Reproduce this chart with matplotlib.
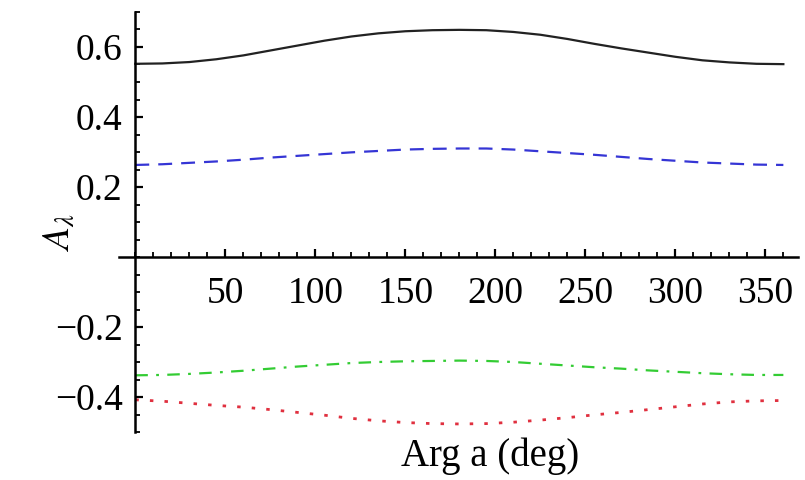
import matplotlib.pyplot as plt
import numpy as np
from matplotlib.ticker import MultipleLocator, FixedLocator

plt.rcParams["font.family"] = ["Liberation Serif", "DejaVu Serif"]
plt.rcParams["mathtext.fontset"] = "stix"
plt.rcParams["lines.scale_dashes"] = False

# Arg a in degrees
arg_a = [0, 15, 30, 45, 60, 75, 90, 105, 120, 135, 150, 165, 180,
         195, 210, 225, 240, 255, 270, 285, 300, 315, 330, 345, 360]

a_black = [0.552, 0.553, 0.557, 0.565, 0.576, 0.590, 0.604, 0.618, 0.630, 0.639, 0.645, 0.648, 0.649,
           0.648, 0.643, 0.635, 0.623, 0.609, 0.596, 0.584, 0.572, 0.562, 0.556, 0.552, 0.551]
a_blue = [0.263, 0.265, 0.269, 0.273, 0.278, 0.284, 0.289, 0.294, 0.299, 0.303, 0.307, 0.309, 0.310,
          0.310, 0.307, 0.302, 0.297, 0.292, 0.286, 0.280, 0.275, 0.270, 0.267, 0.264, 0.263]
a_green = [-0.338, -0.337, -0.334, -0.330, -0.325, -0.319, -0.313, -0.308, -0.303, -0.300, -0.298, -0.297, -0.296,
           -0.297, -0.300, -0.305, -0.310, -0.315, -0.319, -0.324, -0.328, -0.332, -0.335, -0.337, -0.337]
a_red = [-0.408, -0.412, -0.418, -0.424, -0.429, -0.436, -0.444, -0.452, -0.461, -0.468, -0.473, -0.476, -0.477,
         -0.476, -0.472, -0.466, -0.459, -0.451, -0.444, -0.436, -0.428, -0.420, -0.414, -0.411, -0.410]

x_ticks = [50, 100, 150, 200, 250, 300, 350]
y_ticks = [-0.4, -0.2, 0.2, 0.4, 0.6]

fig = plt.figure(figsize=(8.05, 4.8), dpi=100)
ax = fig.add_axes([0.148, 0.1, 0.843, 0.875])

lw = 1.6
ax.plot(arg_a, a_black, color="#222222", lw=lw)
ax.plot(arg_a, a_blue, color="#3535d5", lw=lw, dashes=(10, 6.5))
ax.plot(arg_a, a_green, color="#33cc33", lw=lw, dashes=(9, 6, 2, 6))
ax.plot(arg_a, a_red, color="#e0303f", lw=lw + 0.4, dashes=(2.5, 8))

ax.set_xlim(-9, 368)
ax.set_ylim(-0.5, 0.7)

for side in ("top", "right"):
    ax.spines[side].set_visible(False)
ax.spines["left"].set_position(("data", 0))
ax.spines["bottom"].set_position(("data", 0))
for side in ("left", "bottom"):
    ax.spines[side].set_linewidth(1.8)
ax.spines["left"].set_bounds(-0.5, 0.7)

ax.xaxis.set_major_locator(FixedLocator(x_ticks))
ax.xaxis.set_minor_locator(MultipleLocator(10))
ax.yaxis.set_major_locator(FixedLocator(y_ticks))
ax.yaxis.set_minor_locator(MultipleLocator(0.05))
ax.set_xticklabels([str(v) for v in x_ticks])
ax.set_yticklabels([f"{v:.1f}".replace("-", "\u2212") for v in y_ticks])

ax.tick_params(axis="both", which="major", direction="in", length=6, width=1.6, labelsize=27)
ax.tick_params(axis="both", which="minor", direction="in", length=3.5, width=1.3)
ax.tick_params(axis="x", which="major", pad=14)
ax.tick_params(axis="y", which="major", pad=9)

fig.text(60 / 805, 1 - 232 / 480, r"$A_\lambda$", rotation=90, fontsize=27,
         ha="center", va="center")
fig.text(490 / 805, 1 - 456 / 480, "Arg a (deg)", fontsize=28, ha="center", va="center")

fig.savefig("out.png", dpi=100)
